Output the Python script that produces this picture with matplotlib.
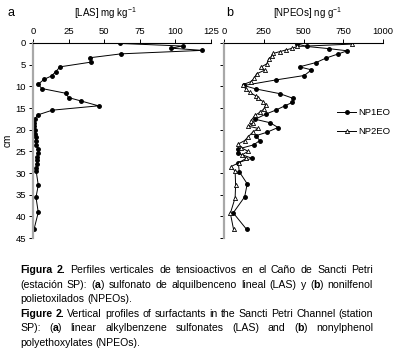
import matplotlib
matplotlib.use("Agg")
import matplotlib.pyplot as plt

plt.rcParams["font.family"] = ["Liberation Sans", "DejaVu Sans"]

# panel a: LAS (mg/kg) vs depth (cm)
las_depth = [0.1, 0.7, 1.2, 1.7, 2.5, 3.4, 4.4, 5.5, 6.6, 7.6, 8.4, 9.5, 10.5, 11.6,
             12.6, 13.4, 14.5, 15.5, 16.6, 17.5, 18.4, 19.2, 20.1, 20.9, 21.8, 22.6,
             23.5, 24.5, 25.3, 26.2, 27.0, 27.9, 28.9, 29.5, 32.8, 35.6, 39.1, 43.0]
las_value = [61, 105, 97, 119, 62, 40, 41, 19, 16, 13, 7.7, 3.7, 6.1, 23,
             25, 34, 46, 13.6, 3.3, 1.4, 0.9, 0.9, 1.4, 1.4, 1.8, 1.8,
             2.2, 3.7, 3.7, 3.0, 2.6, 2.6, 2.2, 2.2, 3.7, 2.1, 3.7, 0.7]

# panel b: NPEOs (ng/g) vs depth (cm)
np1_depth = [0.2, 0.8, 1.3, 1.8, 2.5, 3.5, 4.5, 5.5, 6.2, 7.5, 8.5, 9.8, 10.6, 11.7,
             12.8, 13.7, 14.5, 15.5, 16.4, 17.6, 18.4, 19.5, 20.6, 21.4, 22.5, 23.5,
             24.5, 25.4, 26.6, 27.6, 29.7, 32.5, 35.5, 39.2, 43.0]
np1_value = [460, 520, 660, 775, 720, 640, 580, 475, 550, 505, 330, 125, 200, 352,
             437, 430, 383, 325, 263, 196, 290, 340, 270, 200, 225, 187,
             86, 86, 175, 90, 96, 146, 130, 58, 142]

np2_depth = [0.25, 0.8, 1.2, 1.6, 2.0, 2.4, 3.0, 3.7, 4.8, 5.5, 6.3, 7.1, 8.1, 8.9,
             9.6, 10.6, 11.4, 12.2, 12.8, 13.5, 14.2, 15.2, 16.0, 16.7, 17.9, 18.5,
             19.2, 19.7, 20.6, 21.7, 22.5, 23.3, 24.2, 25.0, 25.8, 26.6, 27.6, 28.5,
             29.6, 32.7, 35.7, 39.3, 43.0]
np2_value = [805, 460, 430, 390, 350, 310, 300, 280, 270, 235, 255, 205, 190, 170,
             120, 136, 162, 200, 215, 246, 262, 252, 225, 195, 170, 183,
             152, 215, 180, 150, 131, 90, 110, 152, 114, 140, 95, 45,
             70, 73, 70, 40, 60]

W, H = 394, 357
fig = plt.figure(figsize=(W / 100, H / 100), dpi=100)


def px_box(x0, x1, y0, y1):
    return [x0 / W, 1 - y1 / H, (x1 - x0) / W, (y1 - y0) / H]


def style_axis(ax):
    ax.set_ylim(45, 0)
    ax.xaxis.tick_top()
    ax.spines["right"].set_visible(False)
    ax.spines["bottom"].set_visible(False)
    ax.spines["top"].set_linewidth(0.8)
    ax.spines["left"].set_color("#a8a8a8")
    ax.spines["left"].set_linewidth(1.6)
    ax.tick_params(axis="both", direction="out", length=3, width=0.7,
                   labelsize=6.8, pad=2)
    ax.set_yticks(range(0, 50, 5))
    ax.set_facecolor("none")


ax1 = fig.add_axes(px_box(33, 211, 43, 238))
ax1.plot(las_value, las_depth, "-", color="black", lw=0.7,
         marker="o", ms=2.5, mfc="black", mec="black")
ax1.set_xlim(0, 125)
ax1.set_xticks([0, 25, 50, 75, 100, 125])
style_axis(ax1)
ax1.set_ylabel("cm", fontsize=7.2, labelpad=2)

ax2 = fig.add_axes(px_box(224, 383, 43, 238))
ax2.plot(np1_value, np1_depth, "-", color="black", lw=0.7,
         marker="o", ms=2.5, mfc="black", mec="black", label="NP1EO")
ax2.plot(np2_value, np2_depth, "-", color="black", lw=0.7,
         marker="^", ms=3.0, mfc="white", mec="black", mew=0.6, label="NP2EO")
ax2.set_xlim(0, 1000)
ax2.set_xticks([0, 250, 500, 750, 1000])
style_axis(ax2)
ax2.set_yticklabels([])
ax2.legend(loc="upper left", bbox_to_anchor=(0.66, 0.71), frameon=False,
           fontsize=6.8, handlelength=2.0, handletextpad=0.2, labelspacing=1.1)

fig.text(8 / W, 1 - 13 / H, "a", fontsize=9, va="center", ha="left")
fig.text(226 / W, 1 - 13 / H, "b", fontsize=9, va="center", ha="left")
fig.text(105 / W, 1 - 13 / H, r"[LAS] mg kg$^{\mathregular{-1}}$", fontsize=7,
         va="center", ha="center")
fig.text(308 / W, 1 - 13 / H, r"[NPEOs] ng g$^{\mathregular{-1}}$", fontsize=7,
         va="center", ha="center")

# caption, justified line by line ("*" toggles bold)
caption_lines = [
    ("*Figura 2.* Perfiles verticales de tensioactivos en el Caño de Sancti Petri", True),
    ("(estación SP): (*a*) sulfonato de alquilbenceno lineal (LAS) y (*b*) nonilfenol", True),
    ("polietoxilados (NPEOs).", False),
    ("*Figure 2.* Vertical profiles of surfactants in the Sancti Petri Channel (station", True),
    ("SP): (*a*) linear alkylbenzene sulfonates (LAS) and (*b*) nonylphenol", True),
    ("polyethoxylates (NPEOs).", False),
]

renderer = fig.canvas.get_renderer()
x_left, x_right = 20, 373
y0, dy = 270, 14.6


def parse_words(line):
    words, bold = [], False
    for w in line.split(" "):
        pieces, buf = [], ""
        for ch in w:
            if ch == "*":
                if buf:
                    pieces.append((buf, bold))
                buf = ""
                bold = not bold
            else:
                buf += ch
        if buf:
            pieces.append((buf, bold))
        words.append(pieces)
    return words


def text_width(s, size, bold=False):
    t = fig.text(0, 0, s, fontsize=size, fontweight="bold" if bold else "normal")
    w = t.get_window_extent(renderer).width
    t.remove()
    return w


# pick the largest size at which the longest line still fits with normal spaces
ref = 10.0
ref_space = text_width("a a", ref) - text_width("aa", ref)
natural = []
for line, justify in caption_lines:
    if not justify:
        continue
    words = parse_words(line)
    wsum = sum(text_width(t, ref, b) for pieces in words for t, b in pieces)
    natural.append(wsum + ref_space * (len(words) - 1))
fs = ref * (x_right - x_left) / max(natural) * 0.995
space = ref_space * fs / ref

for i, (line, justify) in enumerate(caption_lines):
    y = y0 + i * dy
    words = parse_words(line)
    artists = []
    for pieces in words:
        wa = []
        for txt, b in pieces:
            t = fig.text(0, 1 - y / H, txt, fontsize=fs, va="center", ha="left",
                         fontweight="bold" if b else "normal")
            wa.append((t, t.get_window_extent(renderer).width))
        artists.append(wa)
    widths = [sum(w for _, w in wa) for wa in artists]
    if justify and len(words) > 1:
        gap = (x_right - x_left - sum(widths)) / (len(words) - 1)
    else:
        gap = space
    x = x_left
    for wa, wsum in zip(artists, widths):
        xx = x
        for t, w in wa:
            t.set_x(xx / W)
            xx += w
        x += wsum + gap

fig.savefig("out.png", dpi=100)
